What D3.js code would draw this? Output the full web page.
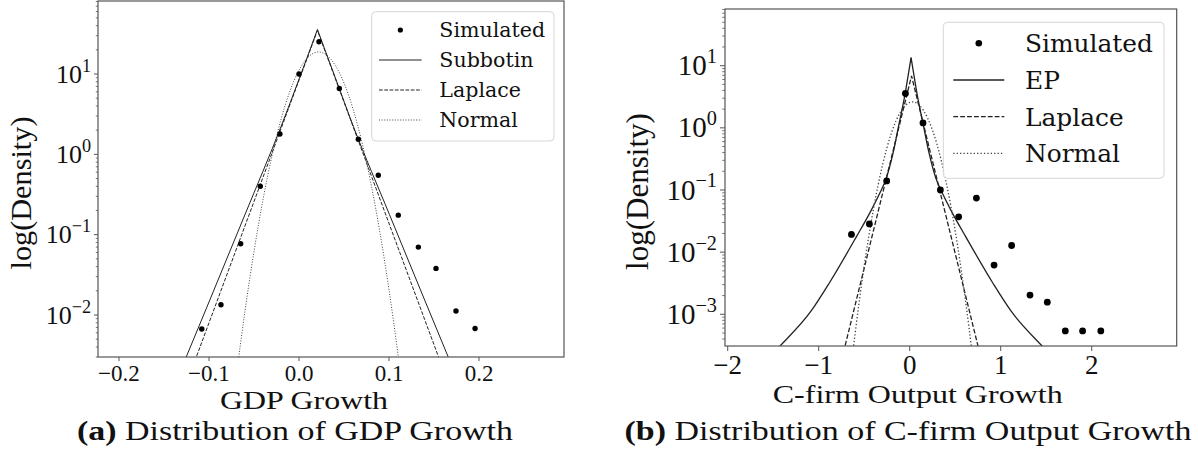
<!DOCTYPE html>
<html>
<head>
<meta charset="utf-8">
<script src="https://cdn.jsdelivr.net/npm/d3@7"></script>
<style>
  html, body { margin: 0; padding: 0; background: #fff; }
  svg { display: block; }
</style>
</head>
<body>
<svg id="chart" width="1198" height="450"></svg>
<script>
// ---------------- DATA ----------------
// Panel (a): GDP growth
const gdpBins = [-0.108, -0.0867, -0.0648, -0.043, -0.0212, 0.0, 0.0222, 0.0448, 0.0659, 0.0881, 0.1103, 0.1326, 0.1522, 0.1744, 0.1956];
const gdpDensity = [0.0067, 0.0134, 0.077, 0.40, 1.79, 10.0, 25.2, 6.6, 1.54, 0.55, 0.175, 0.070, 0.038, 0.0112, 0.0068];
const gdpSubbotinX = [-0.14, -0.10, -0.06, -0.02, 0.0005, 0.0105, 0.0205, 0.0305, 0.0405, 0.0605, 0.1005, 0.1405, 0.1805];
const gdpSubbotinY = [0.0012, 0.0145, 0.178, 2.21, 8.9, 17.8, 35.9, 17.8, 8.9, 2.21, 0.178, 0.0145, 0.0012];
const gdpLaplaceX = [-0.13, 0.0205, 0.17];
const gdpLaplaceY = [0.00099, 34.8, 0.00106];
const gdpNormalX = [-0.07, -0.06, -0.05, -0.04, -0.03, -0.02, -0.01, 0.0, 0.01, 0.0217, 0.03, 0.04, 0.05, 0.06, 0.07, 0.08, 0.09, 0.10, 0.11, 0.115];
const gdpNormalY = [0.00163, 0.01122, 0.0618, 0.2724, 0.962, 2.72, 6.15, 11.14, 16.16, 18.82, 17.43, 12.97, 7.72, 3.68, 1.405, 0.429, 0.105, 0.02055, 0.00322, 0.00117];
const gdpXTicks = [-0.2, -0.1, 0.0, 0.1, 0.2];
const gdpXTickLabels = ["\u22120.2", "\u22120.1", "0.0", "0.1", "0.2"];
const gdpYExponents = [-2, -1, 0, 1];
const gdpLegend = ["Simulated", "Subbotin", "Laplace", "Normal"];

// Panel (b): C-firm output growth
const cfirmBins = [-0.64, -0.443, -0.253, -0.047, 0.146, 0.337, 0.538, 0.733, 0.927, 1.12, 1.322, 1.512, 1.71, 1.90, 2.10];
const cfirmDensity = [0.0193, 0.0285, 0.14, 3.57, 1.2, 0.1, 0.037, 0.074, 0.0062, 0.0128, 0.00204, 0.00157, 0.00054, 0.00054, 0.00054];
const cfirmEPX = [-1.685, -1.425, -1.085, -0.885, -0.585, -0.435, -0.335, -0.255, -0.185, -0.115, -0.05, -0.015, 0.015, 0.045, 0.08, 0.145, 0.215, 0.285, 0.365, 0.465, 0.615, 0.915, 1.115, 1.455, 1.715];
const cfirmEPY = [0.000126, 0.000309, 0.00112, 0.00316, 0.0178, 0.0437, 0.0851, 0.158, 0.380, 1.20, 3.55, 7.24, 13.49, 7.24, 3.55, 1.20, 0.380, 0.158, 0.0851, 0.0437, 0.0178, 0.00316, 0.00112, 0.000309, 0.000126];
const cfirmLaplaceX = [-0.8, 0.02, 0.84];
const cfirmLaplaceY = [0.0000906, 6.85, 0.0000906];
const cfirmNormalX = [-0.7, -0.6, -0.5, -0.4, -0.3, -0.2, -0.1, 0.0, 0.03, 0.1, 0.2, 0.3, 0.4, 0.5, 0.6, 0.7, 0.8];
const cfirmNormalY = [0.0000256, 0.000486, 0.0060, 0.0479, 0.248, 0.834, 1.816, 2.567, 2.62, 2.355, 1.40, 0.541, 0.135, 0.022, 0.00231, 0.000158, 0.000007];
const cfirmXTicks = [-2, -1, 0, 1, 2];
const cfirmXTickLabels = ["\u22122", "\u22121", "0", "1", "2"];
const cfirmYExponents = [-3, -2, -1, 0, 1];
const cfirmLegend = ["Simulated", "EP", "Laplace", "Normal"];

// ---------------- LAYOUT ----------------
const svg = d3.select("#chart");
const SERIF = "'Liberation Serif', 'Times New Roman', serif";
const LEGFONT = "'DejaVu Serif', serif";

function zip(xs, ys) { return xs.map((x, i) => [x, ys[i]]); }

function fitWidth(sel, target) {
  const len = sel.node().getComputedTextLength();
  const fs = parseFloat(sel.attr("font-size"));
  sel.attr("font-size", fs * target / len);
}
// stretch glyphs horizontally to a target width (Computer-Modern text is wider than Times)
function stretchTo(sel, target) {
  sel.attr("textLength", target).attr("lengthAdjust", "spacingAndGlyphs");
}

const panels = [
  {
    id: "a",
    box: { x0: 98, x1: 564, y0: 1, y1: 357 },
    xDomain: [-0.2233, 0.2944], yDomain: [Math.pow(10, -2.523), Math.pow(10, 1.909)],
    bins: gdpBins, dens: gdpDensity,
    curves: [zip(gdpSubbotinX, gdpSubbotinY), zip(gdpLaplaceX, gdpLaplaceY), zip(gdpNormalX, gdpNormalY)],
    xTicks: gdpXTicks, xTickLabels: gdpXTickLabels, yExp: gdpYExponents,
    legend: gdpLegend,
    r: 2.7, lw: 1.0, dash: "3.7,1.6", dot: "1,1.65",
    tickFs: 23, yTickFs: 26, xTickBase: 380.5, majorLen: 4, minorLen: 2.2,
    xLabel: "GDP Growth", xLabelCx: 304, xLabelW: 168, xLabelY: 409, xLabelFs: 26,
    yLabelX: 31, yLabelCy: 193, yLabelW: 153,
    capLabel: "(a)", capText: " Distribution of GDP Growth", capCx: 295, capW: 436, capY: 440, capFs: 28,
    leg: { x: 371.7, y: 11.7, w: 182.3, h: 129.3, y0: 30, dy: 30, hx0: 379, hx1: 421.7, tx: 439.3, tw: 106, mr: 2.6 }
  },
  {
    id: "b",
    box: { x0: 725, x1: 1176.7, y0: 9, y1: 346 },
    xDomain: [-2.0297, 2.934], yDomain: [Math.pow(10, -3.51), Math.pow(10, 1.912)],
    bins: cfirmBins, dens: cfirmDensity,
    curves: [zip(cfirmEPX, cfirmEPY), zip(cfirmLaplaceX, cfirmLaplaceY), zip(cfirmNormalX, cfirmNormalY)],
    xTicks: cfirmXTicks, xTickLabels: cfirmXTickLabels, yExp: cfirmYExponents,
    legend: cfirmLegend,
    r: 3.4, lw: 1.3, dash: "4.8,2.1", dot: "1.3,2.1",
    tickFs: 27, yTickFs: 29, xTickBase: 373.5, majorLen: 5, minorLen: 2.8,
    xLabel: "C-firm Output Growth", xLabelCx: 917.7, xLabelW: 290, xLabelY: 403, xLabelFs: 26,
    yLabelX: 648, yLabelCy: 191.5, yLabelW: 157,
    capLabel: "(b)", capText: " Distribution of C-firm Output Growth", capCx: 908, capW: 567, capY: 440, capFs: 28,
    leg: { x: 943.3, y: 22.3, w: 220.7, h: 156, y0: 43.3, dy: 36.7, hx0: 953.3, hx1: 1004.3, tx: 1025, tw: 128, mr: 3.3 }
  }
];

panels.forEach(p => {
  const b = p.box;
  const x = d3.scaleLinear().domain(p.xDomain).range([b.x0, b.x1]);
  const y = d3.scaleLog().domain(p.yDomain).range([b.y1, b.y0]);
  const g = svg.append("g");

  const clipId = "clip-" + p.id;
  svg.append("defs").append("clipPath").attr("id", clipId)
    .append("rect").attr("x", b.x0).attr("y", b.y0).attr("width", b.x1 - b.x0).attr("height", b.y1 - b.y0);

  // curves
  const plot = g.append("g").attr("clip-path", `url(#${clipId})`);
  const lineSmooth = d3.line().x(d => x(d[0])).y(d => y(d[1])).curve(d3.curveMonotoneX);
  const lineLin = d3.line().x(d => x(d[0])).y(d => y(d[1]));
  // fat-tailed fit: draw each side of the cusp separately so the peak stays sharp
  const fit = p.curves[0];
  let peak = 0;
  fit.forEach((d, i) => { if (d[1] > fit[peak][1]) peak = i; });
  [fit.slice(0, peak + 1), fit.slice(peak)].forEach(part => {
    plot.append("path").datum(part).attr("d", lineSmooth)
      .attr("fill", "none").attr("stroke", "#222").attr("stroke-width", p.lw);
  });
  plot.append("path").datum(p.curves[1]).attr("d", lineLin)
    .attr("fill", "none").attr("stroke", "#222").attr("stroke-width", p.lw).attr("stroke-dasharray", p.dash);
  plot.append("path").datum(p.curves[2]).attr("d", lineSmooth)
    .attr("fill", "none").attr("stroke", "#444").attr("stroke-width", p.lw).attr("stroke-dasharray", p.dot);

  // points
  plot.selectAll("circle.pt").data(zip(p.bins, p.dens)).enter().append("circle")
    .attr("class", "pt").attr("cx", d => x(d[0])).attr("cy", d => y(d[1])).attr("r", p.r).attr("fill", "#000");

  // x axis ticks
  const xa = g.append("g");
  p.xTicks.forEach((t, i) => {
    xa.append("line").attr("x1", x(t)).attr("x2", x(t)).attr("y1", b.y1).attr("y2", b.y1 + p.majorLen)
      .attr("stroke", "#555").attr("stroke-width", 1);
    xa.append("text").attr("x", x(t)).attr("y", p.xTickBase).attr("text-anchor", "middle")
      .attr("font-family", SERIF).attr("font-size", p.tickFs).attr("fill", "#111").text(p.xTickLabels[i]);
  });

  // y axis ticks (log)
  const ya = g.append("g");
  const [lo, hi] = p.yDomain;
  for (let k = Math.floor(Math.log10(lo)); k <= Math.ceil(Math.log10(hi)); k++) {
    for (let m = 2; m <= 9; m++) {
      const v = m * Math.pow(10, k);
      if (v < lo || v > hi) continue;
      ya.append("line").attr("x1", b.x0 - p.minorLen).attr("x2", b.x0).attr("y1", y(v)).attr("y2", y(v))
        .attr("stroke", "#555").attr("stroke-width", 0.8);
    }
  }
  p.yExp.forEach(e => {
    const v = Math.pow(10, e);
    const fs = p.yTickFs;
    ya.append("line").attr("x1", b.x0 - p.majorLen).attr("x2", b.x0).attr("y1", y(v)).attr("y2", y(v))
      .attr("stroke", "#555").attr("stroke-width", 1);
    const t = ya.append("text").attr("x", b.x0 - p.majorLen - 3).attr("y", y(v) + fs * 0.33)
      .attr("text-anchor", "end").attr("font-family", SERIF).attr("font-size", fs).attr("fill", "#111");
    t.append("tspan").text("10");
    t.append("tspan").attr("font-size", fs * 0.7).attr("dy", -fs * 0.42)
      .text(e < 0 ? "\u2212" + Math.abs(e) : String(e));
  });

  // spines
  g.append("rect").attr("x", b.x0).attr("y", b.y0).attr("width", b.x1 - b.x0).attr("height", b.y1 - b.y0)
    .attr("fill", "none").attr("stroke", "#555").attr("stroke-width", 1.2);

  // legend
  const L = p.leg;
  const lg = g.append("g");
  lg.append("rect").attr("x", L.x).attr("y", L.y).attr("width", L.w).attr("height", L.h).attr("rx", 4)
    .attr("fill", "rgba(255,255,255,0.85)").attr("stroke", "#d6d6d6").attr("stroke-width", 1);
  p.legend.forEach((name, i) => {
    const cy = L.y0 + i * L.dy;
    if (i === 0) {
      lg.append("circle").attr("cx", (L.hx0 + L.hx1) / 2).attr("cy", cy).attr("r", L.mr).attr("fill", "#000");
    } else {
      const ln = lg.append("line").attr("x1", L.hx0).attr("x2", L.hx1).attr("y1", cy).attr("y2", cy)
        .attr("stroke", i === 3 ? "#444" : "#222").attr("stroke-width", p.lw);
      if (i === 2) ln.attr("stroke-dasharray", p.dash);
      if (i === 3) ln.attr("stroke-dasharray", p.dot);
    }
    const t = lg.append("text").attr("x", L.tx).attr("y", cy).attr("dy", "0.36em")
      .attr("font-family", LEGFONT).attr("font-size", 20).attr("fill", "#111").text(name);
    if (i === 0) fitWidth(t, L.tw);
    else t.attr("font-size", lg.select("text").attr("font-size"));
  });

  // axis labels
  const xl = svg.append("text").attr("x", p.xLabelCx - p.xLabelW / 2).attr("y", p.xLabelY)
    .attr("font-family", SERIF).attr("font-size", p.xLabelFs).attr("fill", "#111").text(p.xLabel);
  stretchTo(xl, p.xLabelW);
  const yl = svg.append("text").attr("transform", `translate(${p.yLabelX},${p.yLabelCy}) rotate(-90)`)
    .attr("text-anchor", "middle").attr("font-family", SERIF).attr("font-size", 28).attr("fill", "#111")
    .text("log(Density)");
  fitWidth(yl, p.yLabelW);

  // caption
  const cap = svg.append("text").attr("x", p.capCx - p.capW / 2).attr("y", p.capY)
    .attr("font-family", SERIF).attr("font-size", p.capFs).attr("fill", "#111");
  cap.append("tspan").attr("font-weight", "bold").text(p.capLabel);
  cap.append("tspan").text(p.capText);
  stretchTo(cap, p.capW);
});
</script>
</body>
</html>
